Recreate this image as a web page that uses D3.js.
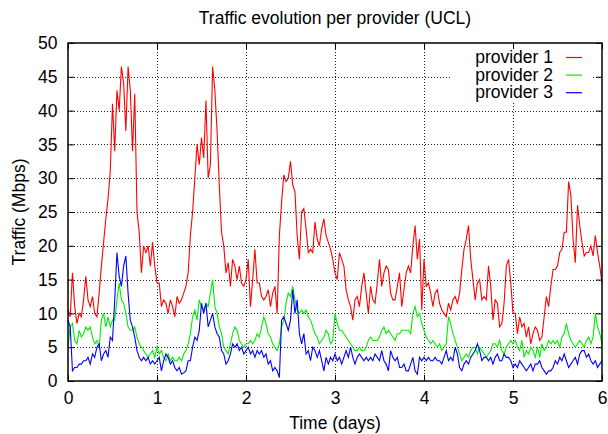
<!DOCTYPE html>
<html>
<head>
<meta charset="utf-8">
<script src="https://d3js.org/d3.v7.min.js"></script>
<style>
  body { margin: 0; background: #fff; }
  svg text { font-family: "Liberation Sans", Arial, Helvetica, sans-serif; fill: #000; }
</style>
</head>
<body>
<svg id="chart"></svg>
<script>
// Traffic per provider, one sample every 1/40 day
var samplesPerDay = 40;

var provider1 = [
  // day 0
  10.5, 9.5, 16, 11, 8.5, 10, 9.5, 12, 15.5, 12, 11, 12.5, 10, 9.5, 13, 17, 20.5, 24, 27, 31,
  41, 34, 43, 40, 46.5, 44, 37, 46.5, 43, 34, 42.5, 25, 22, 16, 20, 19, 20, 17, 20.5, 17, 14.5,
  // day 1
  14.5, 11, 12, 11.5, 10, 12, 11, 9.5, 12.5, 11.5, 12, 13, 14, 16, 21.5, 25, 30, 35, 32, 36,
  33, 41.5, 30, 32, 46.5, 43, 37, 29, 22, 20, 16, 17.5, 14, 18, 17, 15, 17, 14.5, 14, 15,
  // day 2
  18, 11, 15, 19.5, 14.5, 14.5, 12.5, 12, 12.5, 13.5, 11, 13, 14, 10, 21.5, 26.5, 30.5, 29.5, 30, 32.5,
  29, 28, 21.5, 18, 25, 25.5, 22.5, 19, 19.5, 19, 23.5, 21, 20, 22.5, 24, 21.5, 20.5, 19.5, 18, 16,
  // day 3
  15, 19, 18, 17, 13.5, 12, 11, 9, 12, 12.5, 11, 14, 16, 13, 10, 14, 12, 11.5, 14.5, 18,
  14, 16, 17, 16.5, 13, 12, 12, 14, 16, 11, 13.5, 16, 17, 16, 20, 23, 18, 21, 10.5, 18,
  // day 4
  14, 14.5, 13, 11, 13, 13.5, 11.5, 10.5, 10, 9.5, 11.5, 10.5, 12, 12.5, 11.5, 13, 16.5, 19.5, 21, 23,
  18, 15, 12, 14.5, 15, 12, 12.5, 12, 17, 14, 9, 12, 11.5, 8, 8.5, 11.5, 17, 18, 14.5, 10,
  // day 5
  10, 7, 9.5, 8, 8.5, 6.5, 8, 5.5, 7, 8, 7.5, 6, 6.5, 9.5, 12.5, 11, 14, 16.5, 16.5, 17,
  19, 19.5, 22, 22, 29.5, 27.5, 21, 17.5, 26, 23, 20.5, 18.5, 19, 19, 20, 18.5, 21.5, 19, 17, 14.5
];

var provider2 = [
  // day 0
  5, 8, 8.5, 6, 5.5, 7.5, 6.5, 7, 8, 7.5, 8, 6.5, 5.5, 6, 5, 9, 10, 8, 9.5, 8,
  9, 9, 12, 14.5, 12, 11.5, 10, 8, 7.5, 7.5, 8, 6.5, 5.5, 5, 4.5, 4, 3.5, 4, 4.5, 3.5, 5,
  // day 1
  4, 4.5, 3.5, 3, 4, 3, 3.5, 3, 3, 3.5, 3, 4, 4.5, 5.5, 7, 9.5, 10.5, 9, 12, 11,
  10.5, 11.5, 11, 13, 15, 11, 10, 8, 7, 5, 4.5, 4, 5.5, 7, 8, 7.5, 6, 5.5, 5, 5.5,
  // day 2
  5.5, 6, 5.5, 6, 7, 6.5, 8, 9.5, 8.5, 7, 6.5, 5.5, 5, 4.5, 5.5, 8, 9, 11.5, 13, 12.5,
  14, 12, 10.5, 10, 10.5, 10, 10.5, 9.5, 9, 8, 7, 6.5, 5.5, 6, 6.5, 7.5, 7, 5.5, 6, 10,
  // day 3
  8.5, 7.5, 7.5, 7, 6.5, 6, 5.5, 5, 4.5, 4.5, 5, 4.5, 4.5, 5, 6, 6.5, 6, 6, 6, 6.5,
  7.5, 8, 7, 7.5, 7, 6.5, 6, 7, 7, 7.5, 7.5, 7.5, 7.5, 7, 10, 11, 9.5, 10, 8.5, 7.5,
  // day 4
  6.5, 6, 5.5, 6, 5.5, 5, 5.5, 4.5, 5, 5.5, 9.5, 8.5, 7, 6, 5, 4, 3, 3.5, 4, 3.5,
  4.5, 5, 5, 4, 5, 4.5, 4, 3.5, 4, 4.5, 5.5, 5.5, 5, 6, 4.5, 4, 5, 5.5, 6, 5.5,
  // day 5
  6, 5, 4.5, 6, 3.5, 4.5, 4, 5, 4.5, 3.5, 5, 3.5, 5.5, 4.5, 5, 6, 5.5, 6, 5.5, 6,
  5, 6.5, 7, 8.5, 7, 6, 5.5, 5, 5.5, 6, 5.5, 5, 6, 6.5, 5.5, 6.5, 10, 8, 7, 5.5
];

var provider3 = [
  // day 0
  9, 8, 1.5, 2, 2, 2.5, 2.5, 3, 3, 3.5, 2.5, 4, 3.5, 5, 5.5, 3, 4, 4.5, 3.5, 6.5,
  6, 12, 19, 15.5, 14, 17, 18.5, 13, 9, 8, 6.5, 4.5, 3.5, 3, 3.5, 3, 3.5, 2.5, 3, 2.5, 3,
  // day 1
  3.5, 1.5, 3, 4, 3.5, 2.5, 3, 2, 1.5, 2, 1, 1.2, 1.5, 3, 3, 5, 6.5, 6, 7.5, 11.5,
  10, 11.5, 8, 9, 10, 8, 7, 6.5, 4.5, 4, 2.5, 3, 4, 5.5, 5, 5.5, 4.5, 5, 4, 4.5,
  // day 2
  5, 4, 4.5, 3.5, 4.5, 4, 4.5, 3.5, 4, 2.5, 3, 1.5, 2, 1.5, 0.5, 9, 9.5, 8.5, 7.5, 9,
  13.5, 10, 12, 7, 5.5, 7, 4, 4.5, 3, 5, 4.5, 3.5, 4.5, 3, 1.5, 3.5, 2.5, 3.5, 3, 4,
  // day 3
  3, 3.5, 2.5, 3.5, 4.5, 3.5, 5, 3.5, 2.5, 3.5, 4, 3.5, 3, 3.5, 3, 3.5, 3, 4, 3.5, 3,
  4.5, 3, 2.5, 1.5, 4.5, 3.5, 3, 3.5, 2, 2, 2.5, 1.5, 1.5, 2.5, 3.5, 1.5, 1, 3.5, 3, 3.5,
  // day 4
  3, 3.5, 3, 3, 3.5, 3, 3, 2.5, 3.5, 4.5, 3, 3.5, 3, 5, 4, 2, 1.5, 2.5, 3, 2.5,
  3.5, 4, 4.5, 5.5, 4.5, 3, 3.5, 3.5, 3, 3.5, 2.5, 3.5, 4, 3, 3, 4, 3.5, 3.5, 3, 2,
  // day 5
  2.5, 2, 3, 2.5, 2, 1.5, 2, 2.5, 1.5, 2.5, 2.5, 3, 2, 1.5, 1, 1.5, 1.5, 2, 3, 2.5,
  3.5, 3, 4, 3, 2, 2.5, 3, 3.5, 2.5, 4, 4.5, 4.5, 3.5, 4, 3, 2.5, 3, 2, 2.5, 3
];

var seriesNames = ["provider 1", "provider 2", "provider 3"];
var seriesColors = ["#ff0000", "#00ee00", "#0000ff"];
var xTicks = [0, 1, 2, 3, 4, 5, 6];
var yTicks = [0, 5, 10, 15, 20, 25, 30, 35, 40, 45, 50];

var margin = { top: 43, right: 6, bottom: 53, left: 68 },
  width = 608 - margin.left - margin.right,
  height = 434 - margin.top - margin.bottom;

var svg = d3.select("#chart")
  .attr("width", 608)
  .attr("height", 434);

var g = svg.append("g")
  .attr("transform", "translate(" + margin.left + "," + margin.top + ")");

var x = d3.scaleLinear().domain([0, 6]).range([0, width]);
var y = d3.scaleLinear().domain([0, 50]).range([height, 0]);

// dotted grid
g.selectAll(".vgrid")
  .data(xTicks.slice(1, -1)).enter()
  .append("line")
  .attr("x1", function(d) { return Math.round(x(d)) + 0.5; })
  .attr("x2", function(d) { return Math.round(x(d)) + 0.5; })
  .attr("y1", 0).attr("y2", height)
  .style("stroke", "#222").style("stroke-dasharray", "1,2");

g.selectAll(".hgrid")
  .data(yTicks.slice(1, -1)).enter()
  .append("line")
  .attr("y1", function(d) { return Math.round(y(d)) + 0.5; })
  .attr("y2", function(d) { return Math.round(y(d)) + 0.5; })
  .attr("x1", 0).attr("x2", width)
  .style("stroke", "#222").style("stroke-dasharray", "1,2");

// legend box hides the grid behind it
g.append("rect")
  .attr("x", 450 - margin.left).attr("y", 1)
  .attr("width", 141).attr("height", 57)
  .style("fill", "#fff");

// axes (inward ticks on all four sides, labels bottom and left)
function styleAxis(sel) {
  sel.select(".domain").remove();
  sel.selectAll("line").style("stroke", "#000");
  sel.selectAll("text").style("font-size", "17.5px").style("font-family", null);
}

g.append("g")
  .attr("transform", "translate(0," + height + ")")
  .call(d3.axisBottom(x).tickValues(xTicks).tickSizeInner(-6).tickPadding(10.5).tickFormat(d3.format("d")))
  .call(styleAxis);

g.append("g")
  .call(d3.axisLeft(y).tickValues(yTicks).tickSizeInner(-6).tickPadding(10.5).tickFormat(d3.format("d")))
  .call(styleAxis);

g.append("g")
  .call(d3.axisTop(x).tickValues(xTicks).tickSizeInner(-6).tickFormat(""))
  .call(styleAxis);

g.append("g")
  .attr("transform", "translate(" + width + ",0)")
  .call(d3.axisRight(y).tickValues(yTicks).tickSizeInner(-6).tickFormat(""))
  .call(styleAxis);

// series
var allSeries = [provider1, provider2, provider3];

var line = d3.line()
  .x(function(d, i) { return x(i / samplesPerDay); })
  .y(function(d) { return y(d); });

g.selectAll(".series")
  .data(allSeries).enter()
  .append("path")
  .attr("d", line)
  .style("fill", "none")
  .style("stroke", function(d, i) { return seriesColors[i]; })
  .style("stroke-width", 1.1);

// border
g.append("rect")
  .attr("x", 0).attr("y", 0)
  .attr("width", width).attr("height", height)
  .style("fill", "none")
  .style("stroke", "#000")
  .style("stroke-width", 1.5);

// legend
var legend = g.selectAll(".legend")
  .data(seriesNames).enter()
  .append("g")
  .attr("transform", function(d, i) { return "translate(0," + (i * 17.6) + ")"; });

legend.append("text")
  .attr("x", 553 - margin.left)
  .attr("y", 20)
  .style("text-anchor", "end")
  .style("font-size", "17.5px")
  .text(function(d) { return d; });

legend.append("line")
  .attr("x1", 566 - margin.left).attr("x2", 582 - margin.left)
  .attr("y1", 14.5).attr("y2", 14.5)
  .style("stroke", function(d, i) { return seriesColors[i]; })
  .style("stroke-width", 1.2);

// titles
svg.append("text")
  .attr("x", margin.left + width / 2)
  .attr("y", 23.5)
  .style("text-anchor", "middle")
  .style("font-size", "17.5px")
  .text("Traffic evolution per provider (UCL)");

svg.append("text")
  .attr("x", margin.left + width / 2)
  .attr("y", 429)
  .style("text-anchor", "middle")
  .style("font-size", "17.5px")
  .text("Time (days)");

svg.append("text")
  .attr("transform", "translate(25," + (margin.top + height / 2) + ") rotate(-90)")
  .style("text-anchor", "middle")
  .style("font-size", "17.5px")
  .text("Traffic (Mbps)");
</script>
</body>
</html>
